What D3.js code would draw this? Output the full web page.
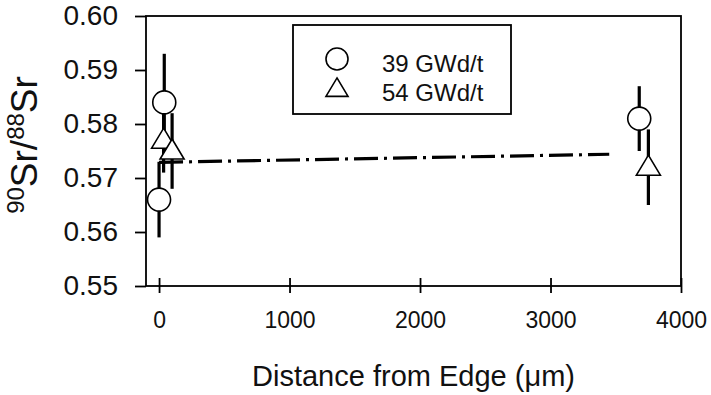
<!DOCTYPE html>
<html>
<head>
<meta charset="utf-8">
<script src="https://cdn.jsdelivr.net/npm/d3@7"></script>
<style>
  body { margin: 0; background: #fff; }
  svg { display: block; font-family: 'Liberation Sans', Arial, sans-serif; }
</style>
</head>
<body>
<svg></svg>
<script>
// canvas
const width = 711
const height = 395

// data
const xTicks = [0, 1000, 2000, 3000, 4000]
const yTicks = [0.55, 0.56, 0.57, 0.58, 0.59, 0.60]

const x39 = [0, 40, 3680]
const y39 = [0.566, 0.584, 0.581]
const err39 = [0.007, 0.009, 0.006]

const x54 = [35, 100, 3750]
const y54 = [0.577, 0.575, 0.572]
const err54 = [0.006, 0.007, 0.007]

const fitX = [0, 3450]
const fitY = [0.5729, 0.5744]

const legendLabels = ['39 GWd/t', '54 GWd/t']

const svg = d3.select('svg')
  .attr('width', width)
  .attr('height', height)

const xScale = d3.scaleLinear().domain([-100, 4000]).range([146, 681])
const yScale = d3.scaleLinear().domain([0.55, 0.60]).range([286, 16])

// frame
svg.append('rect')
  .attr('x', xScale(-100))
  .attr('y', yScale(0.60))
  .attr('width', xScale(4000) - xScale(-100))
  .attr('height', yScale(0.55) - yScale(0.60))
  .attr('fill', 'none')
  .attr('stroke', '#000')
  .attr('stroke-width', 1.8)

// x axis (ticks cross the axis line)
const xAxis = svg.append('g')
  .attr('transform', 'translate(0,' + yScale(0.55) + ')')
  .call(d3.axisBottom(xScale).tickValues(xTicks).tickSize(7).tickPadding(19).tickFormat(d3.format('d')))
svg.append('g')
  .attr('transform', 'translate(0,' + yScale(0.55) + ')')
  .call(d3.axisBottom(xScale).tickValues(xTicks).tickSize(-8).tickFormat(''))
  .call(g => g.select('.domain').remove())
xAxis.select('.domain').remove()
xAxis.selectAll('text').attr('font-size', 23).attr('fill', '#111').attr('font-family', null)

// y axis
const yAxis = svg.append('g')
  .attr('transform', 'translate(' + xScale(-100) + ',0)')
  .call(d3.axisLeft(yScale).tickValues(yTicks).tickSize(11).tickPadding(17).tickFormat(d3.format('.2f')))
yAxis.select('.domain').remove()
yAxis.selectAll('text').attr('font-size', 28).attr('fill', '#111').attr('font-family', null)
svg.selectAll('.tick line').attr('stroke-width', 1.8)

// fit line
svg.append('path')
  .datum(d3.zip(fitX, fitY))
  .attr('d', d3.line().x(d => xScale(d[0])).y(d => yScale(d[1])))
  .attr('fill', 'none')
  .attr('stroke', '#000')
  .attr('stroke-width', 3.2)
  .attr('stroke-dasharray', '24,6,3,6')

// error bars
const points39 = x39.map((d, i) => ({ x: d, y: y39[i], e: err39[i] }))
const points54 = x54.map((d, i) => ({ x: d, y: y54[i], e: err54[i] }))

svg.selectAll('.err')
  .data(points39.concat(points54))
  .enter()
  .append('line')
  .attr('class', 'err')
  .attr('x1', d => xScale(d.x))
  .attr('x2', d => xScale(d.x))
  .attr('y1', d => yScale(d.y - d.e))
  .attr('y2', d => yScale(d.y + d.e))
  .attr('stroke', '#000')
  .attr('stroke-width', 3.2)

function triangle (cx, cy, s) {
  return 'M' + cx + ',' + (cy - 12 * s) + 'L' + (cx + 12 * s) + ',' + (cy + 8 * s) +
    'L' + (cx - 12 * s) + ',' + (cy + 8 * s) + 'Z'
}

svg.selectAll('.circ')
  .data(points39)
  .enter()
  .append('circle')
  .attr('class', 'circ')
  .attr('cx', d => xScale(d.x))
  .attr('cy', d => yScale(d.y))
  .attr('r', 11.5)
  .attr('fill', '#fff')
  .attr('stroke', '#000')
  .attr('stroke-width', 1.6)

svg.selectAll('.tri')
  .data(points54)
  .enter()
  .append('path')
  .attr('class', 'tri')
  .attr('d', d => triangle(xScale(d.x), yScale(d.y), 1))
  .attr('fill', '#fff')
  .attr('stroke', '#000')
  .attr('stroke-width', 1.6)

// legend
const legend = svg.append('g')
legend.append('rect')
  .attr('x', 293).attr('y', 25)
  .attr('width', 218).attr('height', 89)
  .attr('fill', '#fff')
  .attr('stroke', '#000')
  .attr('stroke-width', 1.8)
legend.append('circle')
  .attr('cx', 337).attr('cy', 59).attr('r', 11)
  .attr('fill', '#fff').attr('stroke', '#000').attr('stroke-width', 1.6)
legend.append('path')
  .attr('d', triangle(337, 89, 0.92))
  .attr('fill', '#fff').attr('stroke', '#000').attr('stroke-width', 1.6)
legend.selectAll('.ltext')
  .data(legendLabels)
  .enter()
  .append('text')
  .attr('x', 382)
  .attr('y', (d, i) => 72 + i * 28.5)
  .attr('font-size', 24)
  .attr('fill', '#111')
  .text(d => d)

// axis titles
svg.append('text')
  .attr('x', (xScale(-100) + xScale(4000)) / 2)
  .attr('y', 386)
  .attr('text-anchor', 'middle')
  .attr('font-size', 29)
  .attr('fill', '#111')
  .text('Distance from Edge (\u03bcm)')

const yTitle = svg.append('text')
  .attr('transform', 'translate(37,145) rotate(-90)')
  .attr('text-anchor', 'middle')
  .attr('font-size', 37)
  .attr('fill', '#111')
yTitle.append('tspan').attr('font-size', 24).attr('dy', -13).text('90')
yTitle.append('tspan').attr('dy', 13).text('Sr/')
yTitle.append('tspan').attr('font-size', 24).attr('dy', -13).text('88')
yTitle.append('tspan').attr('dy', 13).text('Sr')
</script>
</body>
</html>
